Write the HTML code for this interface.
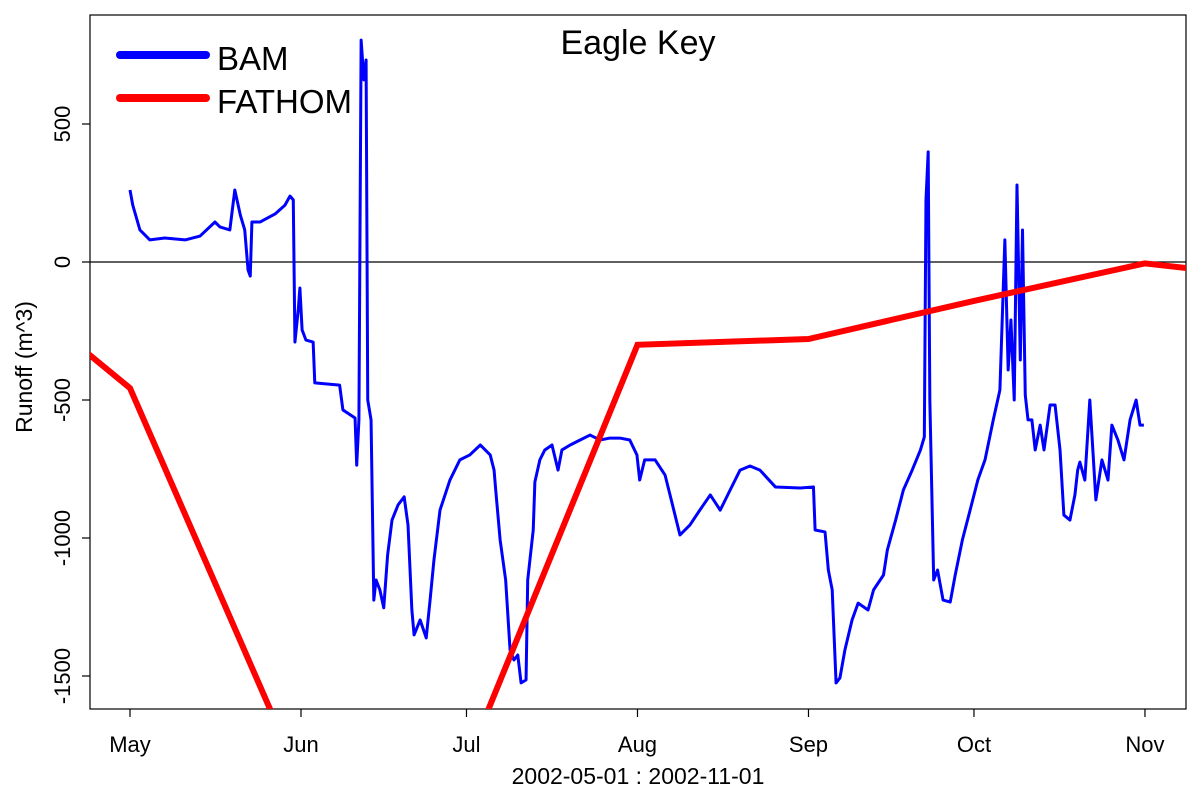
<!DOCTYPE html>
<html><head><meta charset="utf-8"><style>
body{margin:0;background:#fff}
svg{display:block;font-family:"Liberation Sans",Arial,sans-serif}
</style></head><body>
<svg id="chart" width="1200" height="800">
<defs><clipPath id="pa"><rect x="90" y="15" width="1096" height="694"/></clipPath></defs>
<rect x="90" y="15" width="1096" height="694" fill="none" stroke="#000" stroke-width="1.2"/>
<g id="axes"></g>
<g id="marks" clip-path="url(#pa)"></g>
<text x="638" y="54" font-size="34" text-anchor="middle">Eagle Key</text>
<text x="638" y="784" font-size="23" text-anchor="middle">2002-05-01 : 2002-11-01</text>
<text transform="translate(32,367) rotate(-90)" font-size="23" text-anchor="middle">Runoff (m^3)</text>
<g>
<g><line x1="120" y1="55" x2="206" y2="55" stroke="#0000ff" stroke-width="8" stroke-linecap="round"/><text x="217" y="70" font-size="33">BAM</text></g>
<g><line x1="120" y1="98" x2="206" y2="98" stroke="#ff0000" stroke-width="8" stroke-linecap="round"/><text x="217" y="113" font-size="33">FATHOM</text></g>
</g>
</svg>
<script>
const monthLabels=["May","Jun","Jul","Aug","Sep","Oct","Nov"];
const monthDays=[0,31,61,92,123,153,184];
const yTicks=[-1500,-1000,-500,0,500];
const fathomDays=[-30,0,31,61,92,123,153,184,214];
const fathomVals=[36,-457,-1877,-1815,-300,-279,-141,-5,-72];
const bamDays=[0,0.5,1.8,3.6,6.3,10,12.7,15.4,16.3,18.1,19,20,20.8,21.4,21.8,22.1,23.6,26.3,28.1,29,29.6,29.9,30.5,30.8,31.2,31.9,33.2,33.5,38,38.6,40.8,41.1,41.5,41.9,42.4,42.8,43.1,43.7,44.2,44.6,45.3,46,46.7,47.5,48.6,49.7,50.4,51.1,51.5,52.6,53.7,54.4,55.1,56.2,58,59.8,61.6,63.5,65.3,66,66.3,67.1,68.1,68.9,69.6,70.3,70.9,71.8,72.1,73.1,73.4,74.3,75.2,76.5,77.6,78.3,79.8,81.6,83.4,85.2,87,88.8,90.6,91.9,92.4,93.3,95.2,97,97.9,99.7,101.5,103.3,105.2,107,108.8,110.6,112.4,114.2,117,121.5,123.9,124.2,126,126.6,127.3,128,128.7,129.6,130.9,132,133.8,134.8,136.6,137.3,138.8,140.2,141.8,143.3,144,144.3,144.7,145,145.7,146.4,147.4,148.7,149.6,150.9,152.3,153.7,155,156.5,157.7,158.6,159.2,159.7,160.3,160.8,161.4,161.8,162.3,162.8,163.5,164.1,165,165.7,166.8,167.7,168.6,169.3,170.4,171.3,171.8,172.2,173.1,174,175.1,176.2,177.3,178,179.1,180.2,181.3,182.4,183.1,183.8];
const bamVals=[261,206,116,80,87,80,94,145,127,116,261,170,116,-29,-51,145,145,174,206,239,225,-290,-174,-94,-246,-283,-290,-438,-446,-536,-565,-736,-572,804,660,732,-500,-572,-1225,-1152,-1188,-1253,-1062,-935,-880,-851,-953,-1261,-1351,-1297,-1362,-1225,-1080,-899,-790,-717,-699,-663,-699,-754,-826,-1007,-1152,-1406,-1442,-1424,-1525,-1514,-1152,-971,-797,-717,-681,-663,-754,-681,-663,-645,-627,-645,-638,-638,-645,-699,-790,-717,-717,-772,-844,-989,-953,-899,-844,-899,-826,-754,-739,-754,-815,-819,-815,-971,-978,-1116,-1188,-1525,-1507,-1406,-1297,-1236,-1261,-1188,-1134,-1043,-935,-826,-754,-681,-634,225,399,-500,-1152,-1116,-1225,-1232,-1134,-1007,-899,-790,-717,-572,-464,80,-391,-210,-500,279,-355,116,-482,-572,-572,-681,-591,-681,-518,-518,-681,-917,-935,-844,-754,-725,-790,-500,-862,-717,-790,-591,-645,-717,-572,-500,-591,-591];

const NS="http://www.w3.org/2000/svg";
const X=d=>130+d*(171/31);
const Y=v=>262-v*0.276;
const axes=document.getElementById('axes'),marks=document.getElementById('marks');
function mk(tag,attrs,parent){const e=document.createElementNS(NS,tag);for(const k in attrs)e.setAttribute(k,attrs[k]);parent.appendChild(e);return e;}
yTicks.forEach(v=>{
  const t=mk('line',{x1:82,x2:90,y1:Y(v),y2:Y(v),stroke:'#000','stroke-width':1.2},axes);
  
  
  const l=mk('text',{transform:`translate(70,${Y(v)}) rotate(-90)`,'font-size':22,'text-anchor':'middle'},axes);
  l.textContent=v;
  
  
});
monthDays.forEach((d,i)=>{
  const t=mk('line',{x1:X(d),x2:X(d),y1:709,y2:717,stroke:'#000','stroke-width':1.2},axes);
  
  
  const l=mk('text',{x:X(d),y:752,'font-size':22,'text-anchor':'middle'},axes);
  l.textContent=monthLabels[i];
  
  
});
const zl=mk('line',{x1:90,x2:1186,y1:Y(0),y2:Y(0),stroke:'#000','stroke-width':1.2},marks);


const bp=mk('polyline',{points:bamDays.map((d,i)=>X(d)+','+Y(bamVals[i])).join(' '),fill:'none',stroke:'#0000ff','stroke-width':3,'stroke-linejoin':'round'},marks);


const fp=mk('polyline',{points:fathomDays.map((d,i)=>X(d)+','+Y(fathomVals[i])).join(' '),fill:'none',stroke:'#ff0000','stroke-width':6},marks);


</script>
</body></html>
